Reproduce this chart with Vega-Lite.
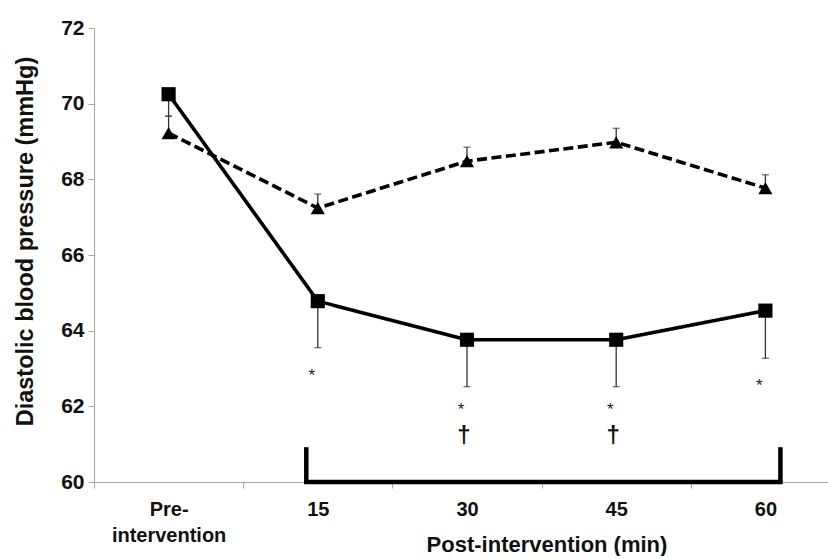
{
  "$schema": "https://vega.github.io/schema/vega-lite/v6.json",
  "width": 746,
  "height": 454,
  "padding": {"left": 13, "top": 17, "right": 0, "bottom": 0},
  "background": "white",
  "config": {
    "view": {"stroke": null},
    "font": "Liberation Sans",
    "axis": {"grid": false, "domainColor": "#a6a6a6", "tickColor": "#a6a6a6", "tickSize": 6, "labelColor": "#111111", "titleColor": "#111111", "labelFont": "Liberation Sans", "titleFont": "Liberation Sans"}
  },
  "datasets": {
    "series": [
      {"time": "Pre-intervention", "group": "square", "mean": 70.25, "err": 69.67},
      {"time": "15", "group": "square", "mean": 64.78, "err": 63.55},
      {"time": "30", "group": "square", "mean": 63.76, "err": 62.52},
      {"time": "45", "group": "square", "mean": 63.76, "err": 62.52},
      {"time": "60", "group": "square", "mean": 64.53, "err": 63.27},
      {"time": "Pre-intervention", "group": "triangle", "mean": 69.22, "err": 69.67},
      {"time": "15", "group": "triangle", "mean": 67.24, "err": 67.61},
      {"time": "30", "group": "triangle", "mean": 68.48, "err": 68.85},
      {"time": "45", "group": "triangle", "mean": 68.98, "err": 69.35},
      {"time": "60", "group": "triangle", "mean": 67.77, "err": 68.12}
    ],
    "marks": [
      {"time": "15", "y": 62.8, "label": "*"},
      {"time": "30", "y": 61.9, "label": "*"},
      {"time": "45", "y": 61.9, "label": "*"},
      {"time": "60", "y": 62.53, "label": "*"},
      {"time": "30", "y": 61.22, "label": "†"},
      {"time": "45", "y": 61.22, "label": "†"}
    ],
    "bracket": [
      {"from": "15", "to": "60", "base": 60, "top": 60.92}
    ]
  },
  "encoding": {
    "x": {
      "field": "time",
      "type": "nominal",
      "scale": {"type": "band", "domain": ["Pre-intervention", "15", "30", "45", "60"], "paddingInner": 0, "paddingOuter": 0},
      "axis": {
        "title": "Post-intervention (min)",
        "labelAngle": 0,
        "tickBand": "extent",
        "labelExpr": "datum.label == 'Pre-intervention' ? ['Pre-', 'intervention'] : datum.label",
        "labelBaseline": "middle",
        "labelPadding": 21,
        "labelFontSize": 20,
        "labelFontWeight": "bold",
        "labelLineHeight": 26,
        "titleFontSize": 22,
        "titleFontWeight": "bold",
        "titleBaseline": "middle",
        "titleX": 452.5,
        "titleY": 62.5
      }
    }
  },
  "layer": [
    {
      "data": {"name": "bracket"},
      "mark": {"type": "rule", "color": "black", "strokeWidth": 4.5, "xOffset": -11.5, "x2Offset": 15, "strokeCap": "square"},
      "encoding": {
        "x": {"field": "from", "type": "nominal"},
        "x2": {"field": "to"},
        "y": {"field": "base", "type": "quantitative"}
      }
    },
    {
      "data": {"name": "bracket"},
      "mark": {"type": "rule", "color": "black", "strokeWidth": 4.5, "xOffset": -11.5},
      "encoding": {
        "x": {"field": "from", "type": "nominal"},
        "y": {"field": "base", "type": "quantitative"},
        "y2": {"field": "top"}
      }
    },
    {
      "data": {"name": "bracket"},
      "mark": {"type": "rule", "color": "black", "strokeWidth": 4.5, "xOffset": 15},
      "encoding": {
        "x": {"field": "to", "type": "nominal"},
        "y": {"field": "base", "type": "quantitative"},
        "y2": {"field": "top"}
      }
    },
    {
      "data": {"name": "series"},
      "mark": {"type": "rule", "color": "#333333", "strokeWidth": 1.3},
      "encoding": {
        "y": {"field": "mean", "type": "quantitative"},
        "y2": {"field": "err"}
      }
    },
    {
      "data": {"name": "series"},
      "mark": {"type": "tick", "color": "#333333", "thickness": 1.3, "size": 7, "orient": "horizontal"},
      "encoding": {
        "y": {"field": "err", "type": "quantitative"}
      }
    },
    {
      "data": {"name": "series"},
      "mark": {"type": "line", "color": "black", "strokeWidth": 3.6},
      "encoding": {
        "y": {
          "field": "mean",
          "type": "quantitative",
          "scale": {"domain": [60, 72], "nice": false, "zero": false},
          "axis": {
            "title": "Diastolic blood pressure (mmHg)",
            "values": [60, 62, 64, 66, 68, 70, 72],
            "labelFontSize": 21,
            "labelFontWeight": "bold",
            "labelPadding": 4,
            "titleFontSize": 23.5,
            "titleFontWeight": "bold",
            "titlePadding": 23,
            "titleY": 213
          }
        },
        "detail": {"field": "group"},
        "strokeDash": {
          "field": "group",
          "type": "nominal",
          "scale": {"domain": ["square", "triangle"], "range": [[1, 0], [10, 4.5]]},
          "legend": null
        }
      }
    },
    {
      "data": {"name": "series"},
      "mark": {"type": "point", "filled": true, "opacity": 1, "color": "black", "size": 200},
      "encoding": {
        "y": {"field": "mean", "type": "quantitative"},
        "shape": {
          "field": "group",
          "type": "nominal",
          "scale": {"domain": ["square", "triangle"], "range": ["square", "triangle-up"]},
          "legend": null
        }
      }
    },
    {
      "data": {"name": "marks"},
      "transform": [{"filter": "datum.label == '*'"}],
      "mark": {"type": "text", "fontSize": 17, "color": "#222222", "baseline": "middle", "dx": -6},
      "encoding": {
        "y": {"field": "y", "type": "quantitative"},
        "text": {"field": "label"}
      }
    },
    {
      "data": {"name": "marks"},
      "transform": [{"filter": "datum.label != '*'"}],
      "mark": {"type": "text", "fontSize": 24, "fontWeight": "bold", "color": "#111111", "baseline": "middle", "dx": -3},
      "encoding": {
        "y": {"field": "y", "type": "quantitative"},
        "text": {"field": "label"}
      }
    }
  ]
}
